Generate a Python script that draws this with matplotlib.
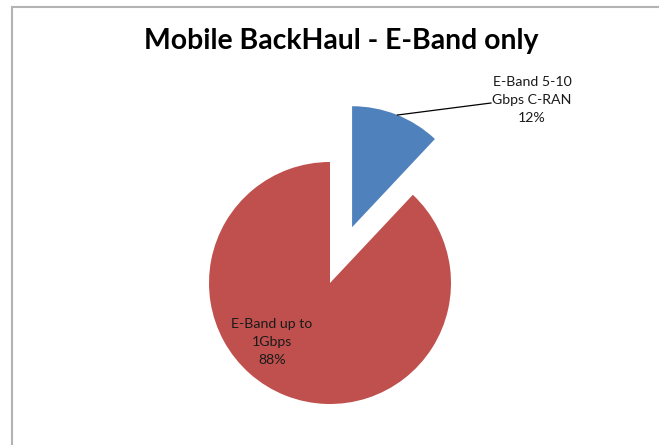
import math
import matplotlib
matplotlib.use("Agg")
import matplotlib.pyplot as plt

# Share of E-Band mobile backhaul links
categories = ["E-Band 5-10\nGbps C-RAN", "E-Band up to\n1Gbps"]
shares = [12, 88]
colors = ["#4F81BD", "#C0504D"]

W, H = 659, 445
fig = plt.figure(figsize=(W / 100, H / 100), dpi=100)
ax = fig.add_axes([0, 0, 1, 1])
ax.set_xlim(0, W)
ax.set_ylim(0, H)
ax.set_aspect("equal")
ax.axis("off")

plt.rcParams["font.family"] = ["Lato", "DejaVu Sans"]

radius = 121
center = (330, 162)
explode_dist = 60

wedges, _ = ax.pie(shares, colors=colors, startangle=90, counterclock=False,
                   radius=radius, center=center,
                   explode=[explode_dist, 0],
                   wedgeprops=dict(linewidth=0))
ax.set_xlim(0, W)
ax.set_ylim(0, H)

total = sum(shares)
pcts = [round(100 * v / total) for v in shares]

label_kw = dict(ha="center", va="center", fontsize=10.2, color="#1a1a1a",
                linespacing=1.65)

# Label for the detached slice with a leader line
bw = wedges[0]
ang = math.radians(68)
x0 = bw.center[0] + bw.r * math.cos(ang)
y0 = bw.center[1] + bw.r * math.sin(ang)
ax.plot([x0, 491], [y0, 342], color="black", lw=0.9)
ax.text(532, 345, f"{categories[0]}\n{pcts[0]}%", **label_kw)

# Label inside the large slice
ax.text(272, 103, f"{categories[1]}\n{pcts[1]}%", **label_kw)

ax.text(341.5, H - 49, "Mobile BackHaul - E-Band only", ha="center",
        va="baseline", fontsize=20.4, fontweight="bold", color="black")

# Chart area border
ax.plot([11.5, 11.5, W], [0, H - 6.5, H - 6.5], color="#b3b3b3", lw=1.5,
        solid_joinstyle="miter")

fig.savefig("out.png", dpi=100)
